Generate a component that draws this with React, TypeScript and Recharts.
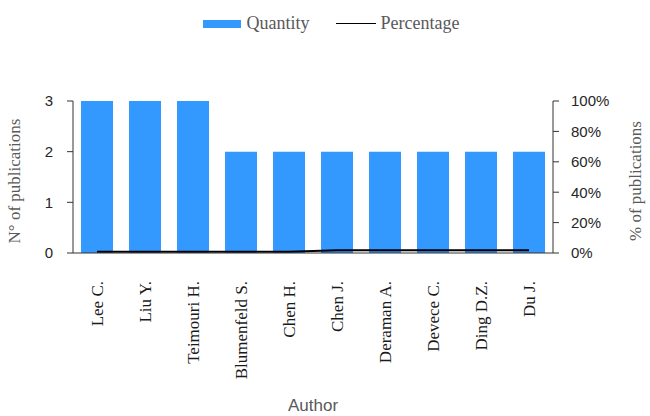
import { ComposedChart, Bar, Line, XAxis, YAxis, Legend } from 'recharts';

const authors = [
  'Lee C.',
  'Liu Y.',
  'Teimouri H.',
  'Blumenfeld S.',
  'Chen H.',
  'Chen J.',
  'Deraman A.',
  'Devece C.',
  'Ding D.Z.',
  'Du J.',
];
const quantity = [3, 3, 3, 2, 2, 2, 2, 2, 2, 2];
const percentage = [0.008, 0.008, 0.008, 0.008, 0.008, 0.018, 0.018, 0.018, 0.018, 0.018];

const leftTicks = [0, 1, 2, 3];
const rightTicks = [0, 0.2, 0.4, 0.6, 0.8, 1];

const data = authors.map((author, i) => ({
  author,
  quantity: quantity[i],
  percentage: percentage[i],
}));

const serif = '"Liberation Serif", "Times New Roman", serif';
const sans = '"Liberation Sans", Arial, sans-serif';

function AuthorTick({ x, y, payload }: any) {
  return (
    <text
      x={0}
      y={0}
      transform={`translate(${x + 6}, ${y + 20}) rotate(-90)`}
      textAnchor="end"
      fontFamily={serif}
      fontSize={17}
      fill="#1a1a1a"
    >
      {payload.value}
    </text>
  );
}

// rotated axis title, centred on the plot's vertical middle
function SideTitle({ viewBox, value, cx }: any) {
  const cy = viewBox.y + viewBox.height / 2 + 4;
  return (
    <text
      transform={`translate(${cx}, ${cy}) rotate(-90)`}
      textAnchor="middle"
      fontFamily={serif}
      fontSize={17}
      fill="#595959"
    >
      {value}
    </text>
  );
}

function LegendContent() {
  return (
    <div style={{ display: 'flex', alignItems: 'center', justifyContent: 'center', fontFamily: serif, fontSize: 18, color: '#595959', marginLeft: 12 }}>
      <span style={{ display: 'inline-block', width: 38, height: 8, background: '#3399FF', marginRight: 6 }} />
      <span>Quantity</span>
      <span style={{ display: 'inline-block', width: 40, height: 0, borderTop: '1.5px solid #000', marginLeft: 26, marginRight: 5 }} />
      <span>Percentage</span>
    </div>
  );
}

export default function App() {
  return (
    <div style={{ position: 'absolute', top: 0, left: 0, width: 650, height: 416, background: '#fff' }}>
      <ComposedChart
        width={650}
        height={416}
        data={data}
        margin={{ top: 80, right: 0, left: 0, bottom: 0 }}
        barCategoryGap="16.7%"
      >
        <Legend
          verticalAlign="top"
          content={<LegendContent />}
          wrapperStyle={{ position: 'absolute', top: 13, left: 0, width: 650 }}
        />
        <XAxis
          dataKey="author"
          interval={0}
          height={163}
          tickLine={false}
          axisLine={{ stroke: '#333', strokeWidth: 1 }}
          tick={<AuthorTick />}
          label={{
            value: 'Author',
            position: 'insideBottom',
            offset: 5,
            fill: '#595959',
            fontFamily: sans,
            fontSize: 17,
          }}
        />
        <YAxis
          yAxisId="left"
          width={73}
          domain={[0, 3]}
          ticks={leftTicks}
          tickSize={6}
          tickLine={{ stroke: '#333' }}
          axisLine={{ stroke: '#333' }}
          tick={{ fontFamily: sans, fontSize: 15, fill: '#262626', dx: -12 }}
          label={<SideTitle value="N° of publications" cx={20} />}
        />
        <YAxis
          yAxisId="right"
          orientation="right"
          width={97}
          domain={[0, 1]}
          ticks={rightTicks}
          tickSize={6}
          tickLine={{ stroke: '#333' }}
          axisLine={{ stroke: '#333' }}
          tickFormatter={(v: number) => `${Math.round(v * 100)}%`}
          tick={{ fontFamily: sans, fontSize: 15, fill: '#262626', dx: 10 }}
          label={<SideTitle value="% of publications" cx={641} />}
        />
        <Bar yAxisId="left" dataKey="quantity" name="Quantity" fill="#3399FF" isAnimationActive={false} />
        <Line
          yAxisId="right"
          dataKey="percentage"
          name="Percentage"
          stroke="#000"
          strokeWidth={2}
          dot={false}
          isAnimationActive={false}
        />
      </ComposedChart>
    </div>
  );
}
